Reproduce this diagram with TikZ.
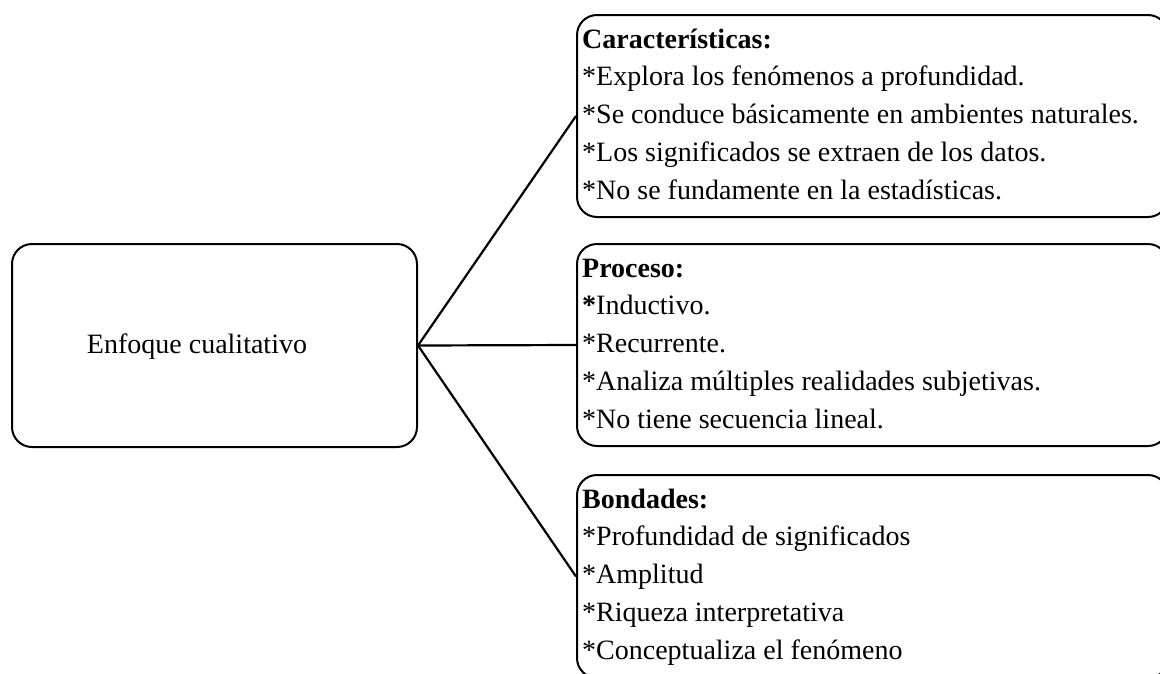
\documentclass[tikz,border=0pt]{standalone}
\usepackage{fontspec}
\setmainfont{Liberation Serif}
\begin{document}
\begin{tikzpicture}[x=1pt,y=-1pt,
  box/.style={draw=black, line width=2pt, rounded corners=20pt, rectangle, inner sep=0pt},
  conn/.style={draw=black, line width=2.2pt},
  item/.style={anchor=base west, inner sep=0pt, font=\fontsize{28}{30}\selectfont},
  head/.style={item, font=\fontsize{28}{30}\selectfont\bfseries}]
\useasboundingbox (0,0) rectangle (1160,673);
\clip (0,0) rectangle (1160,673);
% left box
\node[box, minimum width=405pt, minimum height=203pt] (main) at (214.5,345.5) {};
\node[inner sep=0pt, font=\fontsize{28}{30}\selectfont] (mainlbl) at (197,347) {Enfoque cualitativo};
% right boxes
\node[box, minimum width=591pt, minimum height=202pt] (car) at (872.5,116) {};
\node[box, minimum width=591pt, minimum height=202pt] (pro) at (872.5,345) {};
\node[box, minimum width=591pt, minimum height=203pt] (bon) at (872.5,576.5) {};
% texts
\def\sp{37.75}
\node[head] (car0) at (582,48) {Características:};
\node[item] (car1) at (582,48+\sp) {*Explora los fenómenos a profundidad.};
\node[item] (car2) at (582,48+2*\sp) {*Se conduce básicamente en ambientes naturales.};
\node[item] (car3) at (582,48+3*\sp) {*Los significados se extraen de los datos.};
\node[item] (car4) at (582,48+4*\sp) {*No se fundamente en la estadísticas.};
\node[head] (pro0) at (582,277) {Proceso:};
\node[item] (pro1) at (582,277+\sp) {\textbf{*}Inductivo.};
\node[item] (pro2) at (582,277+2*\sp) {*Recurrente.};
\node[item] (pro3) at (582,277+3*\sp) {*Analiza múltiples realidades subjetivas.};
\node[item] (pro4) at (582,277+4*\sp) {*No tiene secuencia lineal.};
\node[head] (bon0) at (582,508) {Bondades:};
\node[item] (bon1) at (582,508+\sp) {*Profundidad de significados};
\node[item] (bon2) at (582,508+2*\sp) {*Amplitud};
\node[item] (bon3) at (582,508+3*\sp) {*Riqueza interpretativa};
\node[item] (bon4) at (582,508+4*\sp) {*Conceptualiza el fenómeno};
% connectors
\draw[conn] (main.east) -- (car.west);
\draw[conn] (main.east) -- (pro.west);
\draw[conn] (main.east) -- (bon.west);
\end{tikzpicture}
\end{document}
